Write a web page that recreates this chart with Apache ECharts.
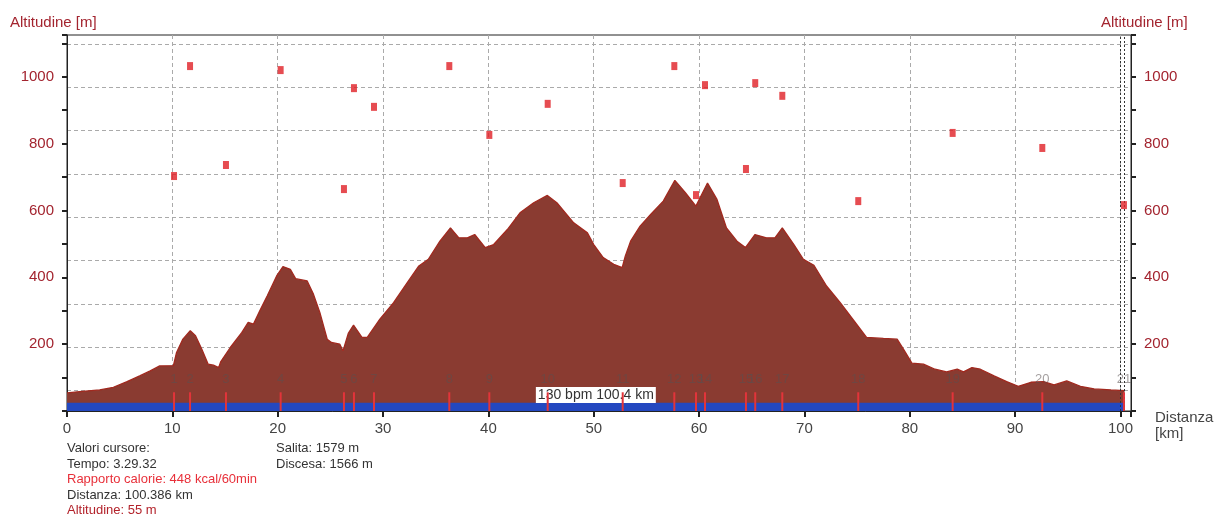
<!DOCTYPE html>
<html>
<head>
<meta charset="utf-8">
<script src="https://cdn.jsdelivr.net/npm/echarts@6/dist/echarts.min.js"></script>
<style>
  html, body { margin: 0; padding: 0; background: #fff; }
  #chart { width: 1218px; height: 518px; }
</style>
</head>
<body>
<div id="chart"></div>
<script>
// ---- data ----
const profileKm = [0, 1.2, 3.1, 4.4, 5.7, 6.9, 7.9, 8.8, 10.1, 10.4, 11.0, 11.7, 12.2, 12.8, 13.4, 13.9, 14.4, 14.6, 15.5, 16.6, 17.2, 17.7, 18.3, 19.0, 19.9, 20.5, 21.2, 21.7, 22.8, 23.4, 24.0, 24.7, 25.1, 25.9, 26.2, 26.7, 27.2, 28.0, 28.5, 29.7, 31.0, 32.3, 33.4, 34.3, 35.4, 36.4, 37.2, 38.0, 38.7, 39.7, 40.5, 41.8, 43.0, 44.3, 45.6, 46.5, 48.1, 49.4, 50.0, 50.9, 51.9, 52.7, 53.0, 53.5, 54.4, 55.4, 56.6, 57.7, 58.7, 59.7, 60.8, 61.7, 62.6, 63.6, 64.4, 65.3, 66.4, 67.2, 67.9, 69.0, 69.9, 70.9, 72.1, 73.4, 74.7, 75.9, 77.5, 78.8, 79.4, 80.2, 81.3, 82.4, 83.5, 84.5, 85.1, 85.9, 86.7, 88.0, 89.2, 90.3, 91.5, 92.7, 93.7, 94.9, 96.2, 97.5, 99.1, 100.386];
const profileAlt = [54, 58, 63, 71, 88, 105, 120, 135, 136, 175, 215, 240, 225, 185, 140, 137, 130, 148, 190, 235, 265, 260, 300, 344, 404, 432, 424, 396, 389, 349, 295, 215, 205, 200, 180, 232, 257, 220, 220, 275, 324, 384, 434, 454, 508, 548, 518, 518, 528, 489, 498, 543, 593, 623, 645, 623, 563, 533, 498, 459, 439, 429, 464, 508, 553, 588, 628, 690, 653, 613, 682, 633, 548, 508, 489, 528, 518, 518, 548, 498, 454, 436, 374, 324, 270, 220, 217, 215, 185, 143, 140, 125, 117, 125, 117, 130, 125, 105, 88, 74, 86, 88, 78, 90, 74, 66, 63, 61];
const lapKm = [10.16, 11.68, 15.09, 20.28, 26.29, 27.24, 29.14, 36.29, 40.09, 45.63, 52.75, 57.65, 59.71, 60.56, 64.45, 65.33, 67.9, 75.11, 84.07, 92.58, 100.33];
const lapValue = [703, 1032, 736, 1020, 664, 966, 910, 1032, 826, 919, 682, 1032, 646, 975, 724, 981, 943, 628, 832, 787, 616];
const lapLabels = ['1','2','3','4','5','6','7','8','9','10','11','12','13','14','15','16','17','18','19','20','21'];
const bandKm = [0, 100.386];
const bandAlt = [25, 25];
const cursorKm = [100, 100.386];
const cursorLabel = '130 bpm 100.4 km';
const cursorLabelPos = [50.2, 48];
const lapLineTop = 56;
const leftTexts = ['Valori cursore:', 'Tempo: 3.29.32', 'Rapporto calorie: 448 kcal/60min', 'Distanza: 100.386 km', 'Altitudine: 55 m'];
const rightTexts = ['Salita: 1579 m', 'Discesa: 1566 m'];

// ---- styles ----
const SANS = "'Liberation Sans', Arial, sans-serif";
const RED_DARK = '#a3242f';

const chart = echarts.init(document.getElementById('chart'), null, { renderer: 'canvas' });

const leftColors = ['#333', '#333', '#e8303a', '#333', '#b3232b'];
const graphics = [
  { type: 'text', left: 10, top: 15, style: { text: 'Altitudine [m]', fill: RED_DARK, font: '15px ' + SANS } },
  { type: 'text', left: 1101, top: 15, style: { text: 'Altitudine [m]', fill: RED_DARK, font: '15px ' + SANS } },
  { type: 'text', left: 1155, top: 410, style: { text: 'Distanza', fill: '#444', font: '15px ' + SANS } },
  { type: 'text', left: 1155, top: 426, style: { text: '[km]', fill: '#444', font: '15px ' + SANS } }
];
leftTexts.forEach((t, i) => {
  graphics.push({ type: 'text', left: 67, top: 442 + i * 15.5, style: { text: t, fill: leftColors[i], font: '13px ' + SANS } });
});
rightTexts.forEach((t, i) => {
  graphics.push({ type: 'text', left: 276, top: 442 + i * 15.5, style: { text: t, fill: '#333', font: '13px ' + SANS } });
});

const option = {
  animation: false,
  backgroundColor: '#fff',
  grid: [
    { left: 67, right: 87, top: 35, bottom: 107, show: true, borderColor: '#222', borderWidth: 1, backgroundColor: 'transparent' },
    { left: 67, right: 87, top: 44, bottom: 127.3, show: false }
  ],
  xAxis: [
    {
      type: 'value', gridIndex: 0, min: 0, max: 101, interval: 10,
      axisLine: { show: true, onZero: false, lineStyle: { color: '#222', width: 1 } },
      axisTick: { show: true, length: 6, lineStyle: { color: '#222', width: 2 } },
      axisLabel: { margin: 10, color: '#444', fontSize: 15, fontFamily: SANS,
        formatter: v => (Math.abs(v % 10) < 1e-6 ? String(v) : '') },
      splitLine: { show: true, lineStyle: { color: '#aaa', type: [4, 3], width: 1 } }
    },
    { type: 'value', gridIndex: 1, min: 0, max: 1, show: false, splitLine: { show: false } }
  ],
  yAxis: [
    {
      type: 'value', gridIndex: 0, position: 'left', min: 0, max: 1125, interval: 100,
      axisLine: { show: true, lineStyle: { color: '#222' } },
      axisTick: { show: true, length: 5, lineStyle: { color: '#222', width: 2 } },
      axisLabel: { margin: 13, color: RED_DARK, fontSize: 15, fontFamily: SANS,
        formatter: v => (v > 0 && v % 200 === 0 ? String(v) : '') },
      splitLine: { show: false }
    },
    {
      type: 'value', gridIndex: 0, position: 'right', min: 0, max: 1125, interval: 100,
      axisLine: { show: true, lineStyle: { color: '#222' } },
      axisTick: { show: true, length: 5, lineStyle: { color: '#222', width: 2 } },
      axisLabel: { margin: 13, color: RED_DARK, fontSize: 15, fontFamily: SANS,
        formatter: v => (v > 0 && v % 200 === 0 ? String(v) : '') },
      splitLine: { show: false }
    },
    {
      type: 'value', gridIndex: 1, min: 0, max: 8, interval: 1,
      axisLine: { show: false }, axisTick: { show: false }, axisLabel: { show: false },
      splitLine: { show: true, lineStyle: { color: '#aaa', type: [4, 3], width: 1 } }
    }
  ],
  graphic: graphics,
  series: [
    {
      name: 'profile', type: 'line', xAxisIndex: 0, yAxisIndex: 0, z: 2,
      data: profileKm.map((k, i) => [k, profileAlt[i]]),
      symbol: 'none', smooth: false,
      lineStyle: { color: '#a1291f', width: 1.3 },
      areaStyle: { color: '#8a3b31', opacity: 1 },
      markLine: {
        silent: true, symbol: 'none', label: { show: false },
        lineStyle: { color: '#333', type: [2, 2], width: 1 },
        data: cursorKm.map(k => ({ xAxis: k }))
      }
    },
    {
      name: 'band', type: 'line', xAxisIndex: 0, yAxisIndex: 0, z: 3,
      data: bandKm.map((k, i) => [k, bandAlt[i]]),
      symbol: 'none', lineStyle: { width: 0 },
      areaStyle: { color: '#2448c0', opacity: 1 }
    },
    {
      name: 'cursorLabel', type: 'custom', xAxisIndex: 0, yAxisIndex: 0, z: 4,
      data: [cursorLabelPos],
      renderItem: (params, api) => {
        const p = api.coord([api.value(0), api.value(1)]);
        return {
          type: 'text',
          style: {
            text: cursorLabel, x: p[0], y: p[1], align: 'center', verticalAlign: 'middle',
            fill: '#333', font: '14px ' + SANS, backgroundColor: '#fff', padding: [1, 2, 1, 2]
          }
        };
      }
    },
    {
      name: 'laps', type: 'custom', xAxisIndex: 0, yAxisIndex: 0, z: 5,
      data: lapKm.map(k => [k, 0]),
      renderItem: (params, api) => {
        const x = api.value(0);
        const p0 = api.coord([x, 0]);
        const p1 = api.coord([x, lapLineTop]);
        return {
          type: 'group',
          children: [
            { type: 'line', shape: { x1: p0[0], y1: p0[1], x2: p1[0], y2: p1[1] },
              style: { stroke: '#e2343a', lineWidth: 2 } },
            { type: 'text', style: { text: lapLabels[params.dataIndex], x: p1[0], y: p1[1] - 6,
              align: 'center', verticalAlign: 'bottom', fill: 'rgba(90,80,80,0.55)', font: '13px ' + SANS } }
          ]
        };
      }
    },
    {
      name: 'lapPoints', type: 'scatter', xAxisIndex: 0, yAxisIndex: 0, z: 6,
      data: lapKm.map((k, i) => [k, lapValue[i]]),
      symbol: 'rect', symbolSize: [6, 8],
      itemStyle: { color: '#e01f26' }
    }
  ]
};
chart.setOption(option);
</script>
</body>
</html>
